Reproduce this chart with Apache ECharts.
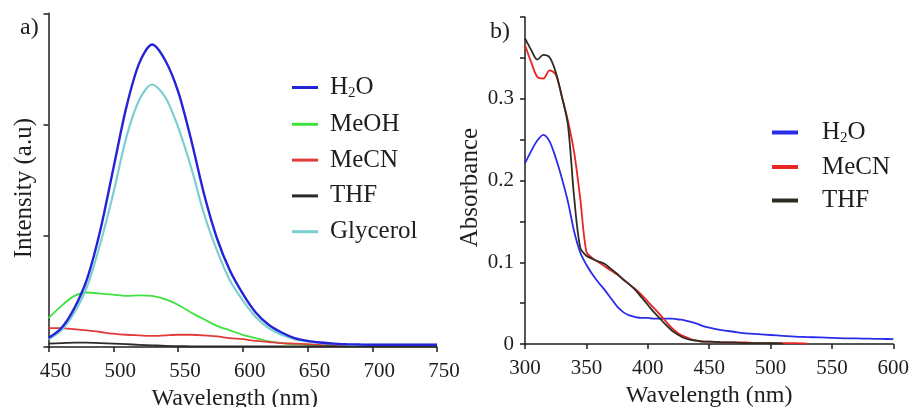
<!DOCTYPE html>
<html>
<head>
<meta charset="utf-8">
<script src="https://cdn.jsdelivr.net/npm/echarts@6/dist/echarts.min.js"></script>
<style>
  html, body { margin: 0; padding: 0; background: #fff; }
  #chart { width: 913px; height: 407px; }
</style>
</head>
<body>
<div id="chart"></div>
<script>
// (a) emission spectra, wavelength in nm
const emWave = [450,460,470,480,490,500,510,520,530,540,550,560,570,580,590,600,610,620,630,640,650,660,670,680,690,700,710,720,730,740,750];
const emH2O = [0.08,0.17,0.35,0.62,1.05,1.6,2.15,2.55,2.72,2.58,2.3,1.87,1.38,0.98,0.69,0.48,0.31,0.2,0.13,0.08,0.055,0.04,0.03,0.025,0.022,0.02,0.02,0.02,0.02,0.02,0.02];
const emMeOH = [0.26,0.37,0.46,0.49,0.48,0.47,0.46,0.465,0.46,0.43,0.38,0.31,0.25,0.19,0.15,0.11,0.08,0.05,0.035,0.025,0.02,0.018,0.016,0.015,0.015,0.015,0.015,0.015,0.015,0.015,0.015];
const emMeCN = [0.17,0.17,0.16,0.15,0.135,0.12,0.11,0.105,0.1,0.105,0.11,0.11,0.105,0.095,0.08,0.07,0.055,0.045,0.035,0.03,0.025,0.02,0.018,0.016,0.015,0.015,0.015,0.015,0.015,0.015,0.015];
const emTHF = [0.03,0.035,0.04,0.04,0.035,0.03,0.025,0.02,0.015,0.01,0.008,0.006,0.005,0.005,0.005,0.005,0.005,0.005,0.005,0.005,0.005,0.005,0.005,0.005,0.005,0.005,0.005,0.005,0.005,0.005,0.005];
const emGlycerol = [0.07,0.15,0.31,0.55,0.93,1.38,1.88,2.22,2.36,2.25,1.98,1.62,1.2,0.87,0.6,0.42,0.27,0.17,0.11,0.07,0.05,0.035,0.028,0.022,0.02,0.02,0.02,0.02,0.02,0.02,0.02];

// (b) absorption spectra, wavelength in nm
const abWave = [300,305,310,315,320,325,330,335,340,345,350,355,360,365,370,375,380,385,390,395,400,405,410,415,420,425,430,435,440,445,450,460,470,480,490,500,510,520,530,540,550,560,570,580,590,600];
const abH2O = [0.221,0.236,0.249,0.256,0.248,0.228,0.203,0.174,0.138,0.112,0.097,0.085,0.075,0.066,0.056,0.046,0.039,0.035,0.033,0.032,0.032,0.031,0.031,0.031,0.031,0.030,0.029,0.027,0.025,0.022,0.020,0.017,0.015,0.013,0.012,0.011,0.010,0.009,0.0085,0.008,0.0075,0.007,0.0068,0.0065,0.0062,0.006];
const abMeCN = [0.366,0.345,0.327,0.325,0.335,0.330,0.303,0.273,0.235,0.178,0.113,0.105,0.1,0.095,0.09,0.085,0.079,0.073,0.067,0.06,0.052,0.044,0.036,0.027,0.019,0.013,0.009,0.006,0.004,0.003,0.003,0.002,0.002,0.002,0.001,0.001,0.001,0.001,0.0005,null,null,null,null,null,null,null];
const abTHF = [0.374,0.36,0.348,0.354,0.351,0.333,0.303,0.268,0.18,0.118,0.108,0.104,0.101,0.098,0.092,0.086,0.079,0.073,0.066,0.057,0.048,0.039,0.031,0.023,0.016,0.011,0.007,0.005,0.004,0.003,0.003,0.002,0.002,0.001,0.001,0.001,0.0005,null,null,null,null,null,null,null,null,null];

const emTicks = { min: 450, max: 750, interval: 50 };
const abTicks = { min: 300, max: 600, interval: 50 };

const FONT = 'Liberation Serif';
const INK = '#1e1e1e';

function pairs(xs, ys) { return xs.map((x, i) => [x, ys[i]]); }

function legendLabel(name) {
  const n = name.replace('_abs', '');
  if (n === 'H2O') return '{t|H}{s|2}{t|O}';
  return '{t|' + n + '}';
}
const legendRich = {
  t: { fontFamily: FONT, fontSize: 25, color: INK, lineHeight: 26 },
  s: { fontFamily: FONT, fontSize: 15, color: INK, lineHeight: 26, padding: [12, 0, 0, 0] }
};

function xAxisFor(gridIndex, t, labelShift, nameShift, nameGap) {
  return {
    type: 'value', gridIndex, min: t.min, max: t.max, interval: t.interval,
    name: 'Wavelength (nm)', nameLocation: 'middle', nameGap,
    nameTextStyle: { fontFamily: FONT, fontSize: 24, color: INK, padding: [0, nameShift, 0, 0] },
    axisLine: { show: true, onZero: false, lineStyle: { color: INK, width: 1.5 } },
    axisTick: { show: true, inside: false, length: 5, lineStyle: { color: INK, width: 1.5 } },
    axisLabel: { fontFamily: FONT, fontSize: 21, color: INK, margin: 14, padding: [0, 0, 0, labelShift] },
    splitLine: { show: false }
  };
}

function line(name, xs, ys, color, width, xi) {
  return {
    type: 'line', name, xAxisIndex: xi, yAxisIndex: xi,
    data: pairs(xs, ys), showSymbol: false, smooth: 0.3,
    connectNulls: false,
    lineStyle: { color, width }, itemStyle: { color }
  };
}

const chart = echarts.init(document.getElementById('chart'), null, { renderer: 'canvas' });
chart.setOption({
  animation: false,
  backgroundColor: '#ffffff',
  grid: [
    { left: 48.5, top: 13.3, width: 388.5, height: 333.7, containLabel: false, outerBoundsMode: 'none' },
    { left: 525, top: 17.2, width: 368.3, height: 326.8, containLabel: false, outerBoundsMode: 'none' }
  ],
  xAxis: [xAxisFor(0, emTicks, 14, 16, 38), xAxisFor(1, abTicks, 0, 0, 40)],
  yAxis: [
    {
      type: 'value', gridIndex: 0, min: 0, max: 3, interval: 1,
      name: 'Intensity (a.u)', nameLocation: 'middle', nameGap: 12,
      nameTextStyle: { fontFamily: FONT, fontSize: 25, color: INK, padding: [0, 16, 0, 0] },
      axisLine: { show: true, onZero: false, lineStyle: { color: INK, width: 1.5 } },
      axisTick: { show: true, length: 5, lineStyle: { color: INK, width: 1.5 } },
      axisLabel: { show: false },
      splitLine: { show: false }
    },
    {
      type: 'value', gridIndex: 1, min: 0, max: 0.4, interval: 0.05,
      name: 'Absorbance', nameLocation: 'middle', nameGap: 42,
      nameTextStyle: { fontFamily: FONT, fontSize: 25, color: INK, padding: [0, 14, 0, 0] },
      axisLine: { show: true, onZero: false, lineStyle: { color: INK, width: 1.5 } },
      axisTick: { show: true, length: 5, lineStyle: { color: INK, width: 1.5 } },
      axisLabel: {
        fontFamily: FONT, fontSize: 21, color: INK, margin: 11,
        formatter: function (v) {
          const k = Math.round(v * 100);
          if (k % 10 !== 0 || k > 30) return '';
          return k === 0 ? '0' : (k / 100).toFixed(1);
        }
      },
      splitLine: { show: false }
    }
  ],
  legend: [
    {
      data: ['H2O', 'MeOH', 'MeCN', 'THF', 'Glycerol'],
      orient: 'vertical', left: 287, top: 69, itemGap: 10.8,
      icon: 'rect', itemWidth: 26, itemHeight: 3, selectedMode: false,
      formatter: legendLabel,
      textStyle: { rich: legendRich, padding: [0, 0, 0, 7] }
    },
    {
      data: ['H2O_abs', 'MeCN_abs', 'THF_abs'],
      orient: 'vertical', left: 767, top: 114, itemGap: 8.5,
      icon: 'rect', itemWidth: 26, itemHeight: 4, selectedMode: false,
      formatter: legendLabel,
      textStyle: { rich: legendRich, padding: [0, 0, 0, 19] }
    }
  ],
  graphic: [
    { type: 'text', left: 20, top: 16, style: { text: 'a)', font: '24px "Liberation Serif"', fill: INK } },
    { type: 'text', left: 490, top: 20, style: { text: 'b)', font: '24px "Liberation Serif"', fill: INK } }
  ],
  series: [
    line('MeOH', emWave, emMeOH, '#3fe23f', 1.8, 0),
    line('MeCN', emWave, emMeCN, '#e23b3b', 1.8, 0),
    line('THF', emWave, emTHF, '#2a2a2a', 1.8, 0),
    line('Glycerol', emWave, emGlycerol, '#7ccfd0', 2.2, 0),
    line('H2O', emWave, emH2O, '#2424d6', 2.4, 0),
    line('H2O_abs', abWave, abH2O, '#2b2bea', 1.8, 1),
    line('MeCN_abs', abWave, abMeCN, '#e82424', 1.8, 1),
    line('THF_abs', abWave, abTHF, '#2c2c22', 1.8, 1)
  ]
});
</script>
</body>
</html>
